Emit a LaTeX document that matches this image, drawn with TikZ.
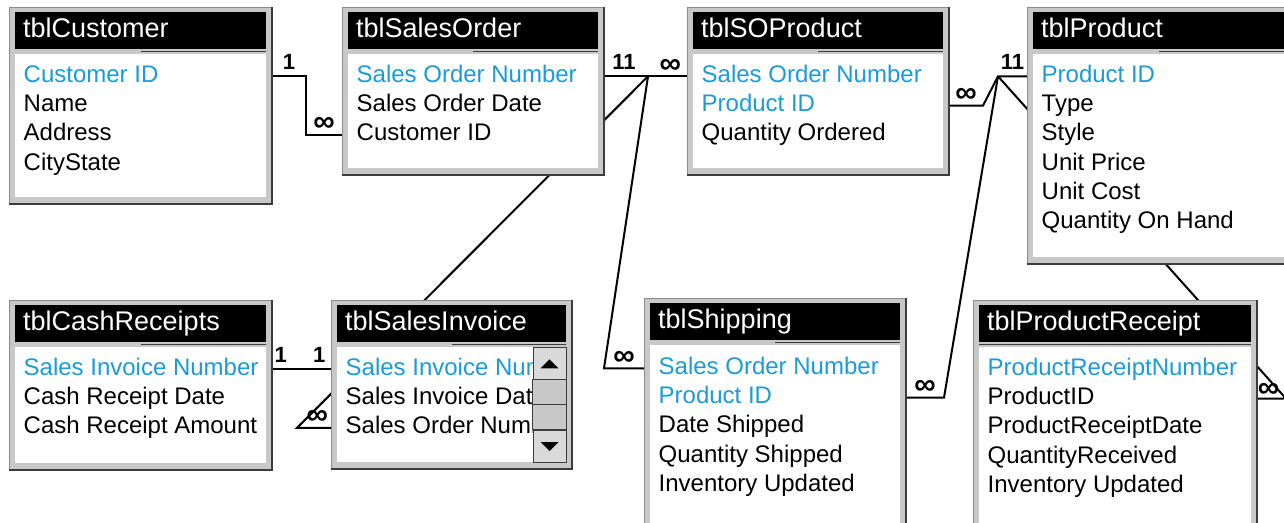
\documentclass[tikz,border=0pt]{standalone}
\usepackage{fontspec}
\setmainfont{Liberation Sans}
\usetikzlibrary{positioning,calc,backgrounds}
\definecolor{erkey}{RGB}{28,155,215}
\definecolor{erframe}{RGB}{200,200,200}
\definecolor{erline}{RGB}{140,140,140}
\definecolor{ershade}{RGB}{60,60,60}
\tikzset{
  tblframe/.style={rectangle, anchor=north west, inner sep=0pt,
    fill=erframe, draw=erline, line width=1pt},
  tblshade/.style={draw=ershade, line width=2.5pt},
  tblhead/.style={rectangle, anchor=north west, inner sep=0pt,
    fill=black, minimum height=37},
  tbltitle/.style={anchor=west, inner sep=0pt, text=white,
    text height=17pt, text depth=5pt, font=\fontsize{27}{30}\selectfont},
  tblbody/.style={rectangle, anchor=north west, inner sep=0pt, fill=white},
  fld/.style={anchor=base west, inner sep=0pt, text height=17pt,
    text depth=5pt, font=\fontsize{24}{28}\selectfont},
  keyfld/.style={fld, text=erkey},
  scrollbtn/.style={rectangle, inner sep=0pt, fill=erframe!70!white,
    draw=ershade, line width=0.8pt, minimum width=33, minimum height=32},
  rel/.style={line width=2pt, black},
  card/.style={above=6pt, inner sep=0pt, text depth=0pt,
    font=\fontsize{22}{22}\selectfont\bfseries},
  many/.style={card, above=2pt, font=\fontsize{30}{30}\selectfont\bfseries}
}
% table frame: name, x, y, width, height, title
\newcommand{\ertable}[6]{%
  \node[tblframe, minimum width=#4, minimum height=#5] (#1) at (#2,#3) {};
  \draw[tblshade] (#1.north east) -- (#1.south east) -- (#1.south west);
  \node[tblhead, minimum width=#4-11] (#1-t) at ($(#1.north west)+(6,5)$) {};
  \node[tbltitle] (#1-n) at ($(#1-t.west)+(8,1)$) {#6};
  \draw[draw=ershade, line width=1pt] ($(#1-t.south)+(0,2.5)$) -- ($(#1-t.south east)+(0,2.5)$);
  \node[tblbody, minimum width=#4-11, minimum height=#5-53] (#1-b) at ($(#1.north west)+(6,47)$) {};
}

\begin{document}
\begin{tikzpicture}[x=1pt, y=-1pt]
  \useasboundingbox (0,0) rectangle (1284,522);
  \clip (0,0) rectangle (1284,522);

  % Tables
  \ertable{cust}{9}{7}{262}{196}{tblCustomer}
  \ertable{so}{342}{7}{261}{167}{tblSalesOrder}
  \ertable{iso}{687}{7}{261}{167}{tblSOProduct}
  \ertable{prod}{1027}{7}{262}{256}{tblProduct}
  \ertable{cash}{9}{300}{262}{169}{tblCashReceipts}
  \ertable{inv}{331}{300}{240}{168}{tblSalesInvoice}
  \ertable{shp}{644}{298}{261}{240}{tblShipping}
  \ertable{rcpt}{973}{300}{283}{240}{tblProductReceipt}
  \draw[draw=ershade, line width=1pt] ($(rcpt-t.south west)+(0,2.5)$) -- ($(rcpt-t.south)+(0,2.5)$);

  % Fields
  \foreach \txt/\sty [count=\i] in {Customer ID/keyfld, Name/fld, Address/fld, CityState/fld}
    \node[\sty] (cust-\i) at ($(cust.north west)+(14.5,{46+29.3*\i})$) {\txt};
  \foreach \txt/\sty [count=\i] in {Sales Order Number/keyfld, Sales Order Date/fld, Customer ID/fld}
    \node[\sty] (so-\i) at ($(so.north west)+(14.5,{46+29.3*\i})$) {\txt};
  \foreach \txt/\sty [count=\i] in {Sales Order Number/keyfld, Product ID/keyfld, Quantity Ordered/fld}
    \node[\sty] (iso-\i) at ($(iso.north west)+(14.5,{46+29.3*\i})$) {\txt};
  \foreach \txt/\sty [count=\i] in {Product ID/keyfld, Type/fld, Style/fld, Unit Price/fld, Unit Cost/fld, Quantity On Hand/fld}
    \node[\sty] (prod-\i) at ($(prod.north west)+(14.5,{46+29.3*\i})$) {\txt};
  \foreach \txt/\sty [count=\i] in {Sales Invoice Number/keyfld, Cash Receipt Date/fld, Cash Receipt Amount/fld}
    \node[\sty] (cash-\i) at ($(cash.north west)+(14.5,{46+29.3*\i})$) {\txt};
  \begin{scope}
    \clip (inv-b.north west) rectangle ($(inv-b.south east)+(-33,0)$);
    \foreach \txt/\sty [count=\i] in {Sales Invoice Number/keyfld, Sales Invoice Date/fld, Sales Order Number/fld}
      \node[\sty] (inv-\i) at ($(inv.north west)+(14.5,{46+29.3*\i})$) {\txt};
  \end{scope}
  \foreach \txt/\sty [count=\i] in {Sales Order Number/keyfld, Product ID/keyfld, Date Shipped/fld, Quantity Shipped/fld, Inventory Updated/fld}
    \node[\sty] (shp-\i) at ($(shp.north west)+(14.5,{47+29.3*\i})$) {\txt};
  \foreach \txt/\sty [count=\i] in {ProductReceiptNumber/keyfld, ProductID/fld, ProductReceiptDate/fld, QuantityReceived/fld, Inventory Updated/fld}
    \node[\sty] (rcpt-\i) at ($(rcpt.north west)+(14.5,{46+29.3*\i})$) {\txt};

  % Scroll bar
  \node[scrollbtn, anchor=north east] (inv-up) at (inv-b.north east) {};
  \node[scrollbtn, anchor=south east] (inv-dn) at (inv-b.south east) {};
  \draw[fill=erframe, draw=ershade, line width=0.8pt] (inv-up.south west) rectangle (inv-dn.north east);
  \draw[draw=ershade, line width=0.8pt] ($(inv-up.south west)!0.5!(inv-dn.north west)$) -- ($(inv-up.south east)!0.5!(inv-dn.north east)$);
  \fill ($(inv-up)+(0,-4)$) -- ++(9,9) -- ++(-18,0) -- cycle;
  \fill ($(inv-dn)+(0,5)$) -- ++(9,-9) -- ++(-18,0) -- cycle;

  % Relationships
  \begin{pgfonlayer}{background}
    \coordinate (so-j) at ($(so.east |- so-1)+(44,0)$);
    \coordinate (prod-j) at ($(prod.west |- prod-1)+(-29,0)$);
    \draw[rel] (cust.east |- cust-1) -- node[card]{1} ++(34,0)
      |- node[many, pos=0.75]{∞} (so.west |- so-3);
    \draw[rel] (so.east |- so-1) -- node[card, pos=0.24]{11}
      node[many, pos=0.8]{∞} (iso.west |- iso-1);
    \draw[rel] (inv.west |- inv-3) -- node[many, pos=0.4]{∞} ++(-34,0) -- (so-j);
    \draw[rel] (shp.west |- shp-1) -- node[many]{∞} ++(-40,0) -- (so-j);
    \draw[rel] (iso.east |- iso-2) -- node[many]{∞} ++(34,0) -- (prod-j)
      -- node[card]{11} (prod.west |- prod-1);
    \draw[rel] (shp.east |- shp-2) -- node[many]{∞} ++(38,0) -- (prod-j);
    \draw[rel] (rcpt.east |- rcpt-2) -- node[many, pos=0.4, above=0pt]{∞} ++(29,0) -- (prod-j);
    \draw[rel] (cash.east |- cash-1) -- node[card, pos=0.15]{1}
      node[card, pos=0.8]{1} (inv.west |- inv-1);
  \end{pgfonlayer}
\end{tikzpicture}
\end{document}
